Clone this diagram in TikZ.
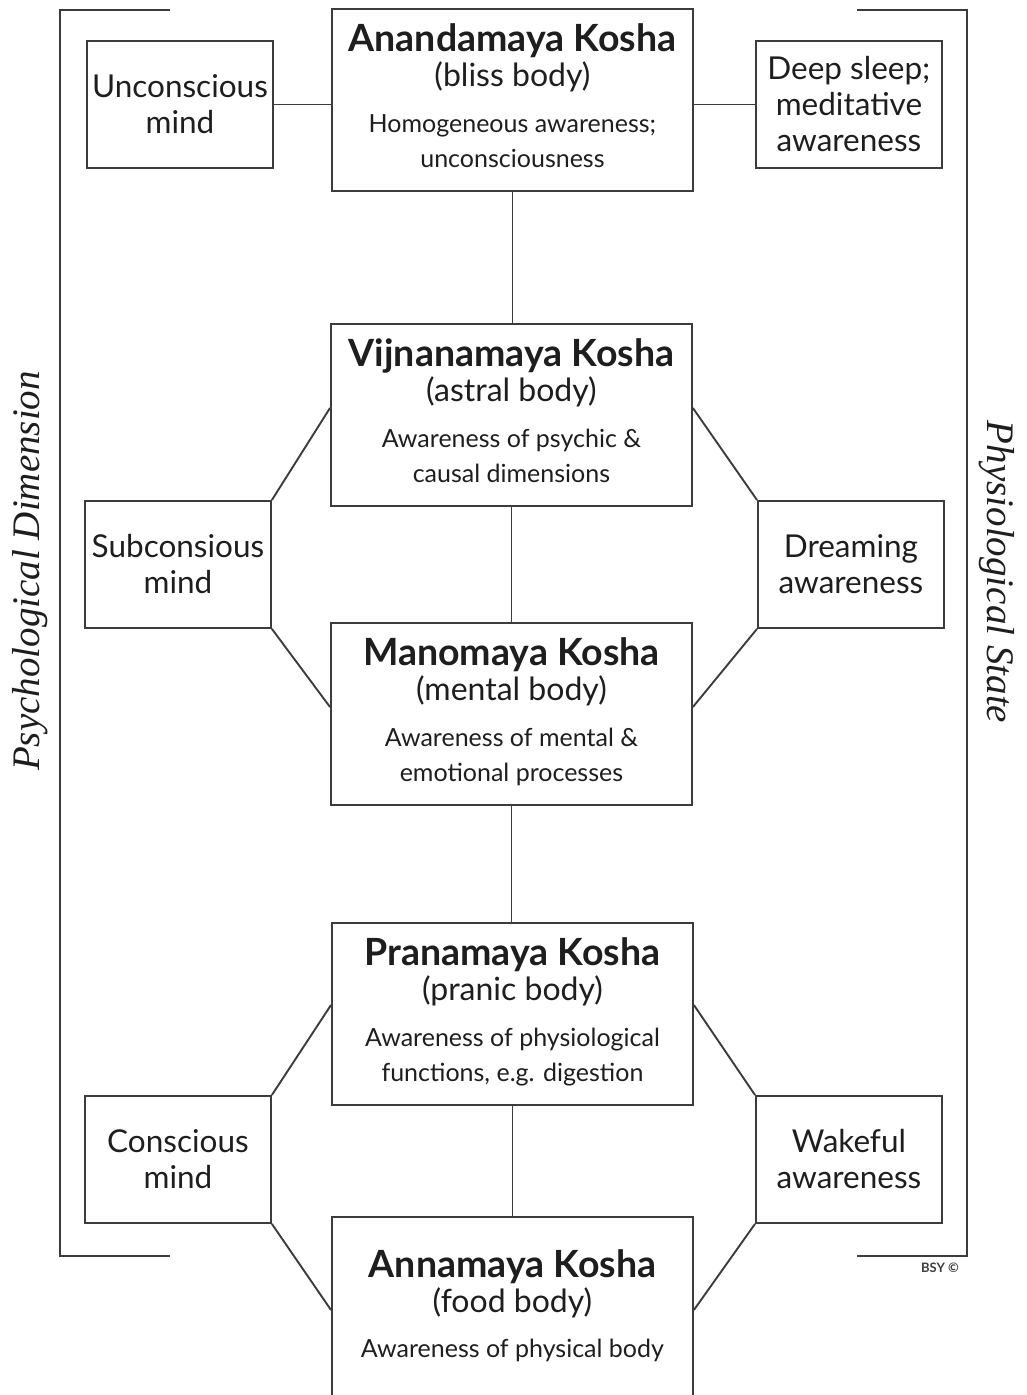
\documentclass[tikz,border=0pt]{standalone}
\usepackage{fontspec}
\usetikzlibrary{calc}
\setmainfont{Lato}
\newfontfamily\serifit{Liberation Serif}
\definecolor{linegray}{HTML}{3C3C3C}
\definecolor{txt}{HTML}{1E1E1E}
\begin{document}
\begin{tikzpicture}[x=1pt,y=-1pt,
  kosha/.style={draw=linegray, line width=1.9pt, minimum width=361pt, minimum height=182pt, inner sep=0pt, anchor=north west},
  side/.style={draw=linegray, line width=1.9pt, minimum width=186pt, minimum height=127pt, inner sep=0pt, anchor=north west, align=center, text=txt, font=\fontsize{31.5}{36}\selectfont},
  title/.style={anchor=base, inner sep=0pt, text=txt, font=\fontsize{37.5}{40}\selectfont\bfseries},
  subt/.style={anchor=base, inner sep=0pt, text=txt, font=\fontsize{32}{36}\selectfont},
  small/.style={anchor=base, inner sep=0pt, text=txt, font=\fontsize{25}{30}\selectfont},
  conn/.style={draw=linegray, line width=1.9pt},
  bracket/.style={draw=linegray, line width=2pt}]
\useasboundingbox (0,0) rectangle (1026,1395);
\clip (0,0) rectangle (1026,1395);
% brackets
\coordinate (lt) at (170,10); \coordinate (ltc) at (60,10);
\coordinate (lbc) at (60,1256); \coordinate (lb) at (170,1256);
\coordinate (rt) at (857,10); \coordinate (rtc) at (967,10);
\coordinate (rbc) at (967,1256); \coordinate (rb) at (857,1256);
\draw[bracket] (lt) -- (ltc) -- (lbc) -- (lb);
\draw[bracket] (rt) -- (rtc) -- (rbc) -- (rb);
% kosha boxes
\node[kosha] (anan) at (331,8) {};
\node[kosha] (vij) at (330,323) {};
\node[kosha] (mano) at (330,622) {};
\node[kosha] (pran) at (331,922) {};
\node[kosha] (anna) at (331,1216) {};
% kosha texts
\node[title] (anan1) at ($(anan.north)+(0,43)$) {Anandamaya Kosha};
\node[subt]  (anan2) at ($(anan.north)+(0,78)$) {(bliss body)};
\node[small] (anan3) at ($(anan.north)+(0,124)$) {Homogeneous awareness;};
\node[small] (anan4) at ($(anan.north)+(0,159)$) {unconsciousness};
\node[title] (vij1) at ($(vij.north)+(0,43)$) {Vijnanamaya Kosha};
\node[subt]  (vij2) at ($(vij.north)+(0,78)$) {(astral body)};
\node[small] (vij3) at ($(vij.north)+(0,124)$) {Awareness of psychic \&};
\node[small] (vij4) at ($(vij.north)+(0,159)$) {causal dimensions};
\node[title] (mano1) at ($(mano.north)+(0,43)$) {Manomaya Kosha};
\node[subt]  (mano2) at ($(mano.north)+(0,78)$) {(mental body)};
\node[small] (mano3) at ($(mano.north)+(0,124)$) {Awareness of mental \&};
\node[small] (mano4) at ($(mano.north)+(0,159)$) {emotional processes};
\node[title] (pran1) at ($(pran.north)+(0,43)$) {Pranamaya Kosha};
\node[subt]  (pran2) at ($(pran.north)+(0,78)$) {(pranic body)};
\node[small] (pran3) at ($(pran.north)+(0,124)$) {Awareness of physiological};
\node[small] (pran4) at ($(pran.north)+(0,159)$) {functions, e.g. digestion};
\node[title] (anna1) at ($(anna.north)+(0,61)$) {Annamaya Kosha};
\node[subt]  (anna2) at ($(anna.north)+(0,96)$) {(food body)};
\node[small] (anna3) at ($(anna.north)+(0,141)$) {Awareness of physical body};
% side boxes
\node[side] (unc) at (86,40) {Unconscious\\mind};
\node[side] (deep) at (755,40) {Deep sleep;\\meditative\\awareness};
\node[side] (sub) at (84,500) {Subconsious\\mind};
\node[side] (dream) at (757,500) {Dreaming\\awareness};
\node[side] (cons) at (84,1095) {Conscious\\mind};
\node[side] (wake) at (755,1095) {Wakeful\\awareness};
% connectors
\draw[conn] (unc.east) -- (unc.east -| anan.west);
\draw[conn] (deep.west) -- (deep.west -| anan.east);
\draw[conn] (anan.south) -- (anan.south |- vij.north);
\draw[conn] (vij.south) -- (vij.south |- mano.north);
\draw[conn] (mano.south) -- (mano.south |- pran.north);
\draw[conn] (pran.south) -- (pran.south |- anna.north);
\draw[conn] (sub.north east) -- ($(vij.north west)+(0,85)$);
\draw[conn] (sub.south east) -- ($(mano.north west)+(0,85)$);
\draw[conn] (dream.north west) -- ($(vij.north east)+(0,85)$);
\draw[conn] (dream.south west) -- ($(mano.north east)+(0,85)$);
\draw[conn] (cons.north east) -- ($(pran.north west)+(0,83)$);
\draw[conn] (cons.south east) -- ($(anna.north west)+(0,94)$);
\draw[conn] (wake.north west) -- ($(pran.north east)+(0,83)$);
\draw[conn] (wake.south west) -- ($(anna.north east)+(0,94)$);
% side labels
\node[rotate=90, text=txt, font=\serifit\itshape\fontsize{39}{42}\selectfont, inner sep=0pt] (psy) at (30,571) {Psychological Dimension};
\node[rotate=-90, text=txt, font=\serifit\itshape\fontsize{39}{42}\selectfont, inner sep=0pt] (phy) at (997,572) {Physiological State};
\node[text=linegray, font=\bfseries\fontsize{13}{15}\selectfont, inner sep=0pt] (bsy) at (940,1268) {BSY ©};
\end{tikzpicture}
\end{document}
